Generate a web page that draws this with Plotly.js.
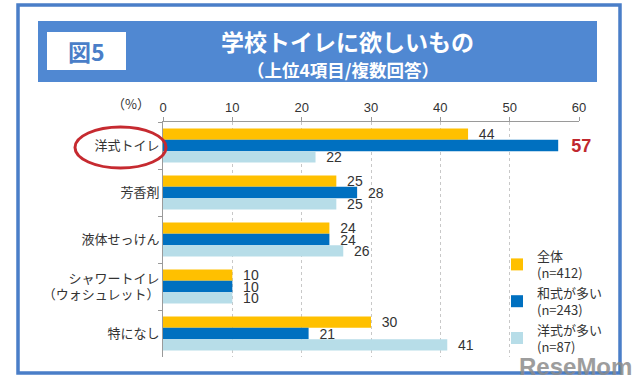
<!DOCTYPE html>
<html>
<head>
<meta charset="utf-8">
<script src="https://cdn.plot.ly/plotly-3.0.1.min.js"></script>
<style>html,body{margin:0;padding:0;background:#fff;}#chart{width:640px;height:388px;}</style>
</head>
<body>
<div id="chart"></div>
<script>
// ---- data ----
const categories = ["洋式トイレ", "芳香剤", "液体せっけん", "シャワートイレ<br>（ウォシュレット）", "特になし"];
const seriesNames = ["全体<br>(n=412)", "和式が多い<br>(n=243)", "洋式が多い<br>(n=87)"];
const allValues = [44, 25, 24, 10, 30];
const washikiValues = [57, 28, 24, 10, 21];
const yoshikiValues = [22, 25, 26, 10, 41];
const xTicks = [0, 10, 20, 30, 40, 50, 60];

const FONT = "Liberation Sans, Arial, Noto Sans CJK JP, sans-serif";
const JP = "Noto Sans CJK JP, sans-serif";
const colors = ["#FFC000", "#0070C0", "#B7DDE8"];

// plot area in pixels
const L = 163, R = 579, T = 122, B = 357;
const W = 640, H = 388;
const px = x => (x - L) / (R - L);
const py = y => (B - y) / (B - T);

function barTrace(name, vals, color, highlight) {
  const tc = vals.map((v, i) => (highlight && i === 0) ? "#C0282E" : "#333333");
  const ts = vals.map((v, i) => (highlight && i === 0) ? 18 : 14);
  const tw = vals.map((v, i) => (highlight && i === 0) ? "bold" : "normal");
  return {
    type: "bar", orientation: "h", name: name,
    x: vals, y: categories,
    marker: {color: color, line: {width: 0}},
    text: vals.map(String), textposition: "outside",
    texttemplate: "\u00a0\u00a0%{text}",
    textfont: {family: FONT, color: tc, size: ts, weight: tw},
    constraintext: "none", cliponaxis: false,
    hoverinfo: "skip"
  };
}

const data = [
  barTrace(seriesNames[0], allValues, colors[0], false),
  barTrace(seriesNames[1], washikiValues, colors[1], true),
  barTrace(seriesNames[2], yoshikiValues, colors[2], false)
];

const layout = {
  width: W, height: H,
  margin: {l: L, r: W - R, t: T, b: H - B, pad: 0},
  paper_bgcolor: "#ffffff", plot_bgcolor: "#ffffff",
  font: {family: FONT, size: 12, color: "#333"},
  barmode: "group", bargap: 0.28, bargroupgap: 0.0,
  showlegend: true,
  legend: {
    x: px(497), y: py(241), xanchor: "left", yanchor: "top",
    bgcolor: "rgba(255,255,255,0)", font: {family: JP, size: 13, color: "#333"},
    traceorder: "normal", itemwidth: 30
  },
  xaxis: {
    side: "top", range: [0, 60], tickvals: xTicks, ticktext: xTicks.map(String),
    showgrid: true, gridcolor: "#c8c8c8", griddash: "dot", gridwidth: 1,
    showline: true, linecolor: "#9a9a9a", linewidth: 1,
    ticks: "outside", ticklen: 4, tickcolor: "#9a9a9a",
    tickfont: {family: FONT, size: 13, color: "#333"},
    zeroline: false, fixedrange: true
  },
  yaxis: {
    type: "category", autorange: "reversed",
    showline: true, linecolor: "#9a9a9a", linewidth: 1,
    ticks: "outside", tickson: "boundaries", ticklen: 4, tickcolor: "#9a9a9a",
    tickfont: {family: JP, size: 13, color: "#333"},
    showgrid: false, zeroline: false, fixedrange: true
  },
  shapes: [
    {type: "rect", xref: "paper", yref: "paper", x0: px(18), x1: px(620), y0: py(5), y1: py(373),
     line: {color: "#4A7EC8", width: 3.5}, fillcolor: "rgba(0,0,0,0)", layer: "below"},
    {type: "rect", xref: "paper", yref: "paper", x0: px(38), x1: px(597), y0: py(21), y1: py(82),
     line: {width: 0}, fillcolor: "#5088D2", layer: "below"},
    {type: "rect", xref: "paper", yref: "paper", x0: px(48), x1: px(125), y0: py(33), y1: py(69),
     line: {color: "#ffffff", width: 2}, fillcolor: "#ffffff", layer: "below"},
    {type: "circle", xref: "paper", yref: "paper", x0: px(75), x1: px(166), y0: py(127), y1: py(168),
     line: {color: "#C62A30", width: 3}, fillcolor: "rgba(0,0,0,0)", layer: "above"}
  ],
  annotations: [
    {text: "<b>図5</b>", xref: "paper", yref: "paper", x: px(86), y: py(51), showarrow: false,
     font: {family: JP, size: 23, color: "#4A7EC8"}, xanchor: "center", yanchor: "middle"},
    {text: "<b>学校トイレに欲しいもの</b>", xref: "paper", yref: "paper", x: px(347), y: py(41), showarrow: false,
     font: {family: JP, size: 23, color: "#ffffff"}, xanchor: "center", yanchor: "middle"},
    {text: "<b>（上位4項目/複数回答）</b>", xref: "paper", yref: "paper", x: px(343), y: py(69), showarrow: false,
     font: {family: JP, size: 17.5, color: "#ffffff"}, xanchor: "center", yanchor: "middle"},
    {text: "（%）", xref: "paper", yref: "paper", x: px(131), y: py(104), showarrow: false,
     font: {family: JP, size: 13, color: "#333"}, xanchor: "center", yanchor: "middle"},
    {text: "<b>ReseMom</b>", xref: "paper", yref: "paper", x: px(575), y: py(366), showarrow: false,
     font: {family: FONT, size: 24, color: "#8c8c8c"}, opacity: 0.85, xanchor: "center", yanchor: "middle"}
  ]
};

Plotly.newPlot("chart", data, layout, {displayModeBar: false, staticPlot: true});
</script>
</body>
</html>
